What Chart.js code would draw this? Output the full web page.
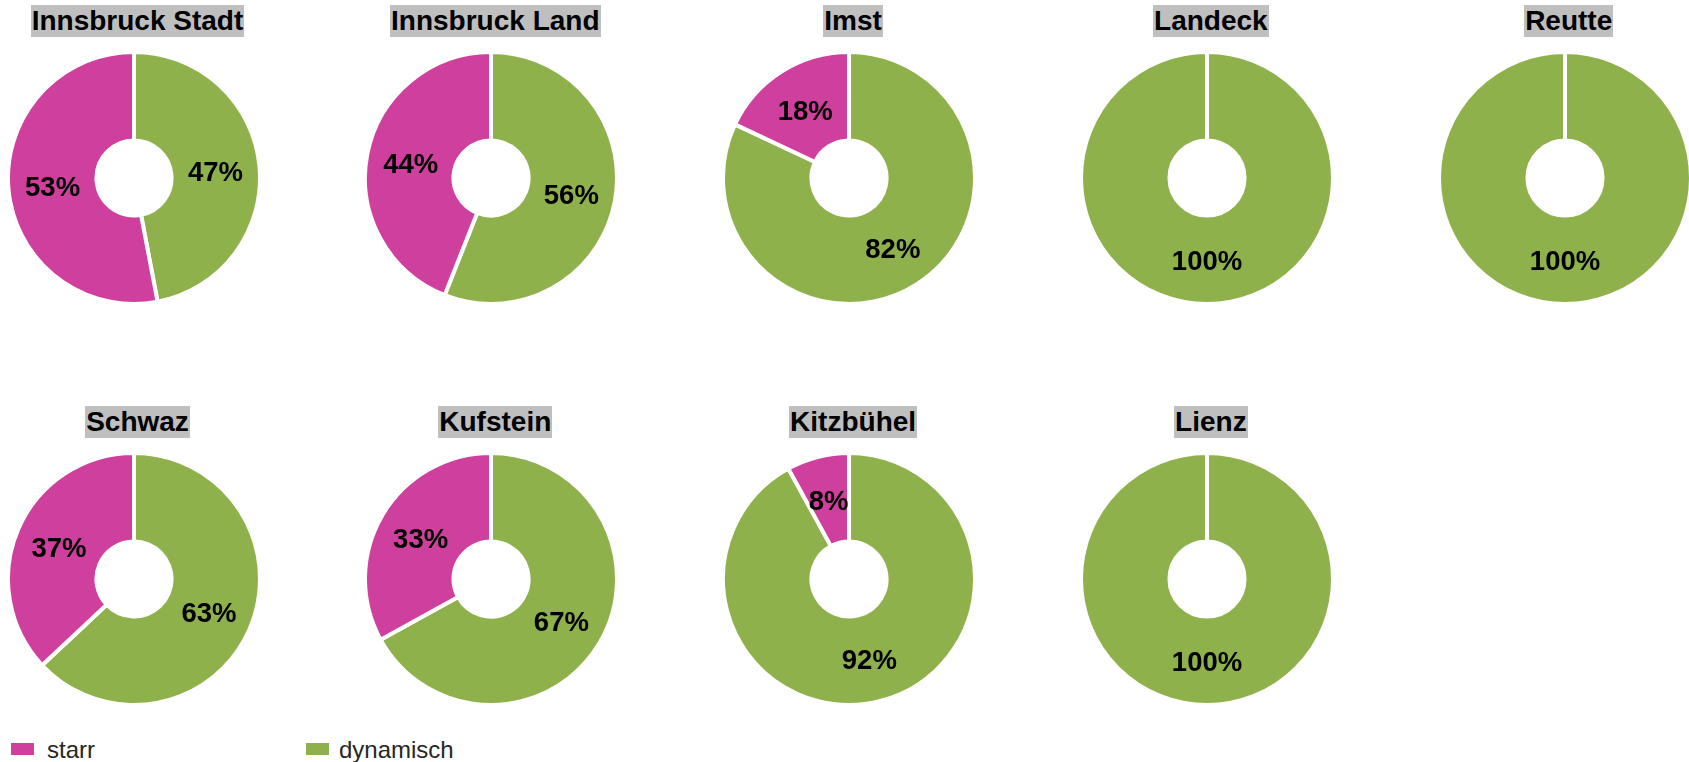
<!DOCTYPE html>
<html>
<head>
<meta charset="utf-8">
<script src="https://cdn.jsdelivr.net/npm/chart.js@4/dist/chart.umd.min.js"></script>
<style>
  html, body { margin: 0; padding: 0; background: #fff; }
  body { width: 1689px; height: 762px; position: relative; overflow: hidden;
         font-family: "Liberation Sans", Arial, sans-serif; }
  .cell-title { position: absolute; width: 360px; text-align: center; }
  .cell-title span { display: inline-block; background: #bfbfbf; color: #000;
         font-weight: bold; font-size: 28px; line-height: 32px; padding: 0 1px; }
  canvas.pie { position: absolute; }
  .legend-item { position: absolute; top: 736px; font-size: 24px; color: #262626; line-height: 28px; }
  .legend-item i { position: absolute; top: 7px; width: 23px; height: 12px; }
  .legend-item b { font-weight: normal; position: absolute; white-space: nowrap; }
</style>
</head>
<body>
<script>
// Share of "starr" vs "dynamisch" per district (percent)
const districts = ['Innsbruck Stadt', 'Innsbruck Land', 'Imst', 'Landeck', 'Reutte',
                   'Schwaz', 'Kufstein', 'Kitzbühel', 'Lienz'];
const dynamisch = [47, 56, 82, 100, 100, 63, 67, 92, 100];
const starr     = [53, 44, 18, 0, 0, 37, 33, 8, 0];
const seriesNames = ['dynamisch', 'starr'];

const colors = { dynamisch: '#8fb14b', starr: '#cf3f9d' };

// grid layout of the small multiples
const colX0 = 133.5, colStep = 357.8, perRow = 5;
const rowY = [178, 579];
const titleTop = [5, 406];
const size = 256;

// draws the percentage inside each ring segment
const ringLabels = {
  id: 'ringLabels',
  afterDatasetsDraw(chart) {
    const ctx = chart.ctx;
    const ds = chart.data.datasets[0];
    const meta = chart.getDatasetMeta(0);
    ctx.save();
    ctx.font = 'bold 27.5px "Liberation Sans", Arial, sans-serif';
    ctx.fillStyle = '#000';
    ctx.textAlign = 'center';
    ctx.textBaseline = 'middle';
    meta.data.forEach((arc, i) => {
      const v = ds.data[i];
      if (!v) return;
      const p = arc.getProps(['x', 'y', 'startAngle', 'endAngle', 'innerRadius', 'outerRadius'], true);
      const a = (p.startAngle + p.endAngle) / 2;
      const r = (p.innerRadius + p.outerRadius) / 2;
      ctx.fillText(v + '%', p.x + Math.cos(a) * r, p.y + Math.sin(a) * r + 3);
    });
    ctx.restore();
  }
};

districts.forEach((name, k) => {
  const col = k % perRow, row = Math.floor(k / perRow);
  const cx = colX0 + col * colStep, cy = rowY[row];

  const t = document.createElement('div');
  t.className = 'cell-title';
  t.style.left = (cx + 4 - 180) + 'px';
  t.style.top = titleTop[row] + 'px';
  const s = document.createElement('span');
  s.textContent = name;
  t.appendChild(s);
  document.body.appendChild(t);

  const c = document.createElement('canvas');
  c.className = 'pie';
  c.width = size; c.height = size;
  c.style.left = (cx - size / 2) + 'px';
  c.style.top = (cy - size / 2) + 'px';
  document.body.appendChild(c);

  new Chart(c, {
    type: 'doughnut',
    data: {
      labels: seriesNames,
      datasets: [{
        data: [dynamisch[k], starr[k]],
        backgroundColor: [colors.dynamisch, colors.starr],
        borderColor: '#ffffff',
        borderWidth: 4
      }]
    },
    options: {
      responsive: false,
      animation: false,
      cutout: '29.8%',
      layout: { padding: 0 },
      plugins: { legend: { display: false }, tooltip: { enabled: false } }
    },
    plugins: [ringLabels]
  });
});

// legend
[['starr', 11, 47], ['dynamisch', 306, 339]].forEach(([name, sx, tx]) => {
  const d = document.createElement('div');
  d.className = 'legend-item';
  d.style.left = '0px';
  const i = document.createElement('i');
  i.style.left = sx + 'px';
  i.style.background = colors[name];
  const b = document.createElement('b');
  b.style.left = tx + 'px';
  b.textContent = name;
  d.appendChild(i); d.appendChild(b);
  document.body.appendChild(d);
});
</script>
</body>
</html>
